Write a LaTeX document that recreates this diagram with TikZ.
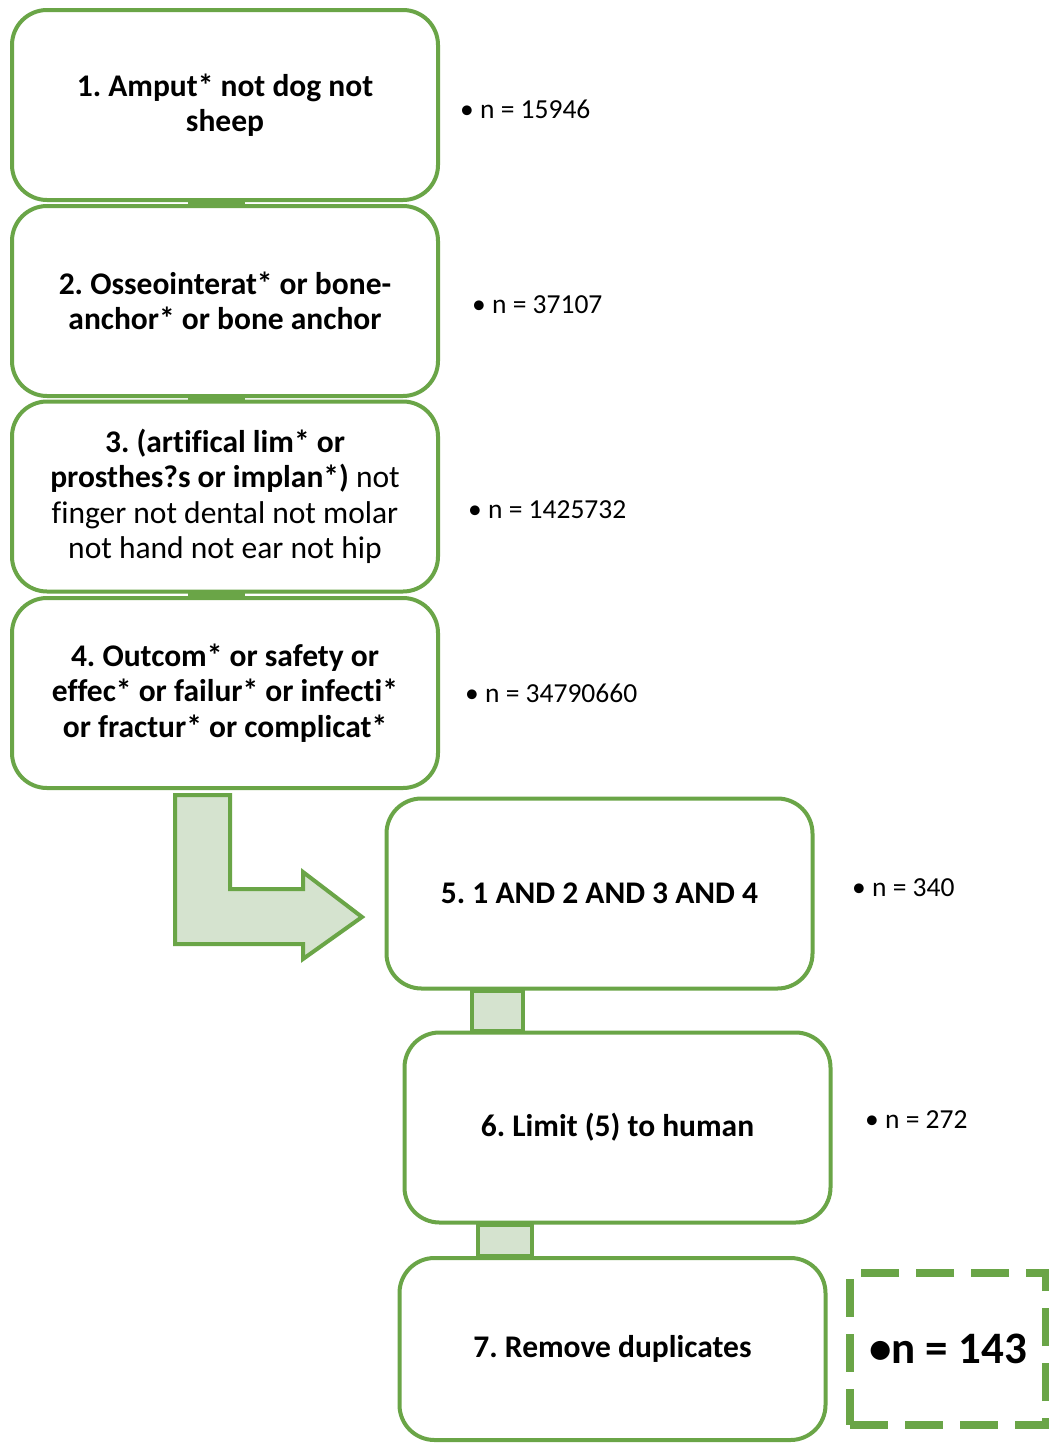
\documentclass[tikz,border=0pt]{standalone}
\usepackage{fontspec}
\setmainfont[Ligatures={NoCommon}]{Carlito}
\usetikzlibrary{calc}
\definecolor{grn}{HTML}{6AA547}
\definecolor{lgrn}{HTML}{D5E3CF}
\frenchspacing
\begin{document}
\begin{tikzpicture}[x=1pt,y=-1pt,
  box/.style={draw=grn, line width=4pt, rounded corners=35pt, fill=white, minimum width=426pt, minimum height=190pt, align=center, font=\fontsize{31.5}{35.5}\selectfont\bfseries, inner sep=0pt},
  count/.style={font=\fontsize{27.5}{32}\selectfont, anchor=west, inner sep=0pt},
  bar/.style={fill=grn},
  conn/.style={draw=grn, fill=lgrn, line width=4pt, line join=miter},
  result/.style={draw=grn, line width=8pt, dash pattern=on 38pt off 17pt, minimum width=196pt, minimum height=152pt, inner sep=0pt, font=\fontsize{45}{50}\selectfont\bfseries},
]
\clip (0,0) rectangle (1049,1443);
\fill[white] (0,0) rectangle (1049,1443);
% boxes
\node[box] (b1) at (225,105) {1. Amput* not dog not\\sheep};
\node[box] (b2) at (225,301) {2. Osseointerat* or bone-\\anchor* or bone anchor};
\node[box] (b3) at (225,496.5) {3. (artifical lim* or\\prosthes?s or implan*) {\mdseries not}\\{\mdseries finger not dental not molar}\\{\mdseries not hand not ear not hip}};
\node[box] (b4) at (225,693) {4. Outcom* or safety or\\effec* or failur* or infecti*\\or fractur* or complicat*};
\node[box] (b5) at (599.5,893.5) {5. 1 AND 2 AND 3 AND 4};
\node[box] (b6) at (617.5,1127.5) {6. Limit (5) to human};
\node[box, minimum height=182pt] (b7) at (612.5,1349) {7. Remove duplicates};
% small bars between stacked boxes
\fill[bar] ($(b1.south)+(-37,-3)$) rectangle ($(b2.north)+(20,3)$);
\fill[bar] ($(b2.south)+(-37,-3)$) rectangle ($(b3.north)+(20,3)$);
\fill[bar] ($(b3.south)+(-37,-3)$) rectangle ($(b4.north)+(20,3)$);
% connectors 5-6 and 6-7
\coordinate (c5a) at ($(b5.south)+(-127.5,0)$);
\coordinate (c5b) at ($(b5.south)+(-76.5,0)$);
\draw[conn] (c5a) rectangle (c5b |- b6.north);
\coordinate (c6a) at ($(b6.south)+(-139.5,0)$);
\coordinate (c6b) at ($(b6.south)+(-85.5,0)$);
\draw[conn] (c6a) rectangle (c6b |- b7.north);
% L-shaped arrow from 4 to 5
\coordinate (la) at ($(b4.south)+(-50,5)$);
\draw[conn] (la) -- ++(55,0) -- ++(0,94) -- ++(73,0) -- ++(0,-17) -- ++(59,45) -- ++(-59,42) -- ++(0,-15) -- ++(-128,0) -- cycle;
% counts
\node[count] (n1) at (460,109) {• n = 15946};
\node[count] (n2) at (472,305) {• n = 37107};
\node[count] (n3) at (468,510) {• n = 1425732};
\node[count] (n4) at (465,693) {• n = 34790660};
\node[count] (n5) at (852,888) {• n = 340};
\node[count] (n6) at (865,1120) {• n = 272};
% result
\node[result] (res) at (948,1349) {•n = 143};
\end{tikzpicture}
\end{document}
